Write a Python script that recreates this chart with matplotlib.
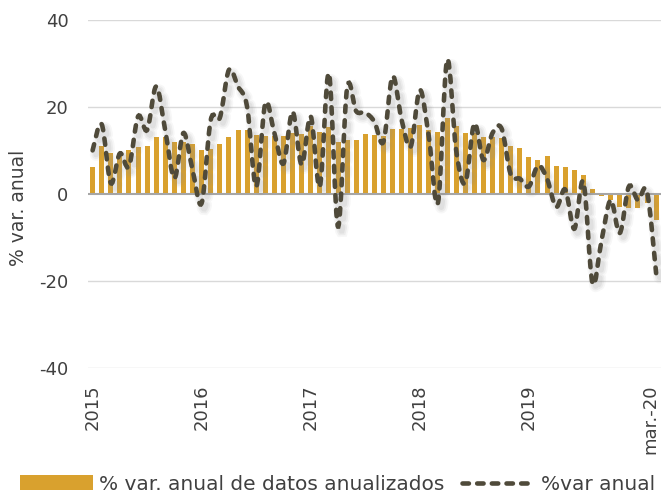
import numpy as np
import matplotlib
matplotlib.use("Agg")
import matplotlib.pyplot as plt
import matplotlib.patheffects as pe
import matplotlib.transforms as mtransforms
from matplotlib.path import Path
from matplotlib.patches import PathPatch, Patch
from matplotlib.lines import Line2D

# monthly data, Jan 2015 .. Mar 2020
bar_values = [
    6.1, 11.0, 9.5, 9.0, 10.0, 10.7, 11.0, 13.0, 13.0, 12.0, 12.0, 11.4,
    10.1, 10.3, 11.4, 13.0, 14.6, 14.7, 13.6, 13.3, 13.3, 13.4, 13.9, 13.8,
    15.6, 14.3, 15.3, 12.0, 12.4, 12.3, 13.8, 13.5, 13.4, 14.9, 14.9, 15.1,
    15.9, 14.7, 14.3, 17.5, 15.6, 13.9, 13.9, 13.0, 13.0, 12.8, 10.9, 10.5,
    8.4, 7.8, 8.8, 6.4, 6.2, 5.4, 4.4, 1.1, -0.5, -1.4, -2.9, -3.3,
    -3.3, -2.1, -6.0,
]
line_values = [
    10.0, 16.0, 2.5, 9.3, 6.3, 17.8, 14.7, 24.7, 14.5, 3.6, 14.0, 5.5,
    -2.1, 17.0, 17.5, 28.5, 24.7, 20.0, 1.7, 20.8, 14.0, 7.0, 18.9, 6.7,
    17.8, 1.7, 27.7, -7.5, 24.3, 19.0, 18.7, 16.6, 12.0, 27.0, 17.0, 10.9,
    23.9, 13.0, -2.0, 30.8, 10.0, 2.5, 16.2, 7.8, 14.0, 15.0, 4.5, 3.5,
    1.7, 6.5, 3.5, -3.0, 1.0, -8.0, 2.8, -20.5, -10.6, -1.4, -9.0, 1.7,
    -1.4, 0.5, -18.2,
]
tick_pos = [0, 12, 24, 36, 48, 62]
tick_labels = ["2015", "2016", "2017", "2018", "2019", "mar.-20"]

BAR_COLOR = "#D9A12E"
LINE_COLOR = "#4F4A3A"
TEXT_COLOR = "#404040"
DASH = (0, (1.4, 1.8))


def smooth_path(xs, ys):
    """Excel-like smoothed line as cubic Bezier path."""
    pts = np.column_stack([xs, ys]).astype(float)
    n = len(pts)
    verts = [pts[0]]
    codes = [Path.MOVETO]
    for i in range(n - 1):
        p0 = pts[i - 1] if i > 0 else pts[i]
        p3 = pts[i + 2] if i + 2 < n else pts[i + 1]
        c1 = pts[i] + (pts[i + 1] - p0) / 6.0
        c2 = pts[i + 1] - (p3 - pts[i]) / 6.0
        verts += [c1, c2, pts[i + 1]]
        codes += [Path.CURVE4] * 3
    return Path(verts, codes)


plt.rcParams["font.family"] = ["DejaVu Sans"]
plt.rcParams["axes.unicode_minus"] = False

fig = plt.figure(figsize=(6.62, 4.96), dpi=100)
ax = fig.add_axes([0.133, 0.258, 0.865, 0.702])

x = np.arange(len(bar_values))
ax.bar(x, bar_values, width=0.55, color=BAR_COLOR, zorder=2)

# soft drop shadow under the dashed line
shadow = [
    pe.SimpleLineShadow(offset=(2.5, -3), shadow_color="#909090", alpha=0.07, linewidth=9),
    pe.SimpleLineShadow(offset=(2.5, -3), shadow_color="#909090", alpha=0.10, linewidth=6.5),
    pe.SimpleLineShadow(offset=(2.5, -3), shadow_color="#909090", alpha=0.13, linewidth=4),
    pe.Normal(),
]
patch = PathPatch(
    smooth_path(x, line_values),
    fill=False,
    edgecolor=LINE_COLOR,
    linewidth=3.3,
    linestyle=DASH,
    capstyle="round",
    zorder=4,
)
patch.set_path_effects(shadow)
ax.add_patch(patch)

ax.set_xlim(-0.5, len(bar_values) - 0.5)
ax.set_ylim(-40, 40)
ax.set_yticks([-40, -20, 0, 20, 40])
ax.set_xticks(tick_pos)
ax.set_xticklabels(tick_labels, rotation=90)
ax.tick_params(axis="both", length=0, labelsize=13, colors=TEXT_COLOR)
ax.tick_params(axis="y", pad=14)
ax.tick_params(axis="x", pad=12)

# nudge the last label a little so it stays inside the figure
last = ax.get_xticklabels()[-1]
last.set_transform(last.get_transform()
                   + mtransforms.ScaledTranslation(-4 / 72, 0, fig.dpi_scale_trans))

for v in [-40, -20, 20, 40]:
    ax.axhline(v, color="#d9d9d9", linewidth=1, zorder=1)
ax.axhline(0, color="#a6a6a6", linewidth=1.5, zorder=3)

for s in ax.spines.values():
    s.set_visible(False)

ax.set_ylabel("% var. anual", fontsize=13.5, color=TEXT_COLOR)
ax.yaxis.set_label_coords(-0.105, 0.46)

handles = [
    Patch(facecolor=BAR_COLOR, edgecolor="none"),
    Line2D([], [], color=LINE_COLOR, linewidth=3.3, linestyle=DASH,
           dash_capstyle="round"),
]
fig.legend(
    handles,
    ["% var. anual de datos anualizados", "%var anual"],
    loc="center",
    bbox_to_anchor=(0.51, 0.024),
    ncol=2,
    frameon=False,
    fontsize=14.5,
    handlelength=3.6,
    handleheight=0.7,
    columnspacing=0.9,
    handletextpad=0.3,
    labelcolor=TEXT_COLOR,
)

fig.savefig("out.png", dpi=100)
plt.close(fig)
